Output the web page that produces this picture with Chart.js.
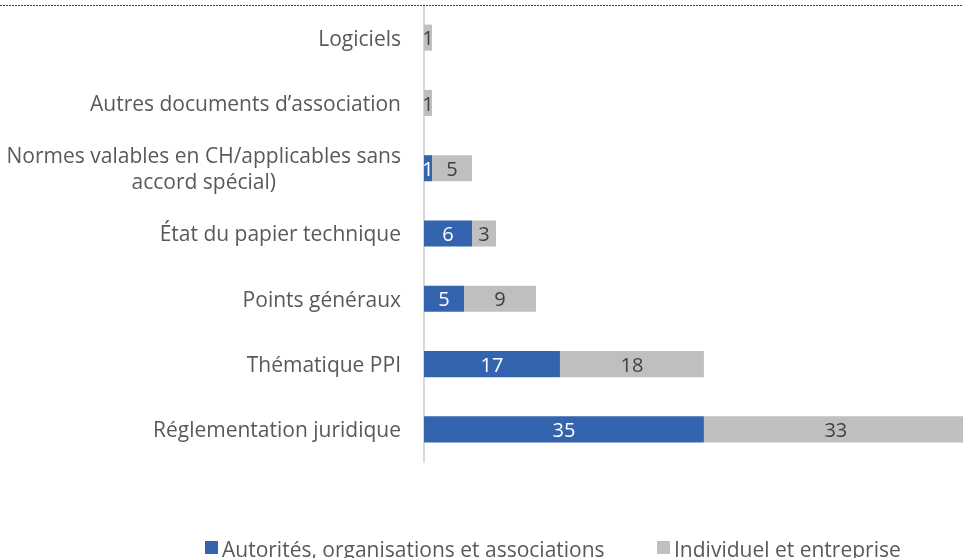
<!DOCTYPE html>
<html><head><meta charset="utf-8">
<script src="https://cdn.jsdelivr.net/npm/chart.js@4.4.1/dist/chart.umd.min.js"></script>
<style>html,body{margin:0;padding:0;background:#fff;}#wrap{width:963px;height:558px;position:relative;}</style>
</head><body><div id="wrap"><canvas id="c" width="963" height="558"></canvas></div>
<script>
const categories = [
  "Logiciels",
  "Autres documents d\u2019association",
  ["Normes valables en CH/applicables sans", "accord spécial)"],
  "État du papier technique",
  "Points généraux",
  "Thématique PPI",
  "Réglementation juridique"
];
const seriesNames = ["Autorités, organisations et associations", "Individuel et entreprise"];
const autorites = [0, 0, 1, 6, 5, 17, 35];
const individuel = [1, 1, 5, 3, 9, 18, 33];
const seriesColors = ["#3564AE", "#BFBFBF"];
const labelColors = ["#FFFFFF", "#404040"];

const FONT = "'Open Sans', Lato, sans-serif";

const overlay = {
  id: 'overlay',
  afterDraw(chart) {
    const ctx = chart.ctx;
    const ys = chart.scales.y;
    const ca = chart.chartArea;
    ctx.save();
    // top dotted border
    ctx.strokeStyle = '#404040';
    ctx.lineWidth = 1;
    ctx.setLineDash([2, 1]);
    ctx.beginPath(); ctx.moveTo(0, 5.5); ctx.lineTo(963, 5.5); ctx.stroke();
    ctx.setLineDash([]);
    // category labels
    ctx.font = '21px ' + FONT;
    ctx.fillStyle = '#595959';
    ctx.textAlign = 'center';
    ctx.textBaseline = 'middle';
    const right = ca.left - 23;
    categories.forEach((lab, i) => {
      const lines = Array.isArray(lab) ? lab : [lab];
      const y = ys.getPixelForValue(i) + 2;
      let mw = 0;
      lines.forEach(l => { mw = Math.max(mw, ctx.measureText(l).width); });
      const cx = right - mw / 2;
      const lh = 26;
      lines.forEach((l, k) => {
        ctx.fillText(l, cx, y - (lines.length - 1) * lh / 2 + k * lh);
      });
    });
    // data labels
    ctx.font = '20px ' + FONT;
    chart.data.datasets.forEach((ds, di) => {
      const meta = chart.getDatasetMeta(di);
      meta.data.forEach((bar, i) => {
        const v = ds.data[i];
        if (!v) return;
        ctx.fillStyle = labelColors[di];
        ctx.fillText(String(v), (bar.x + bar.base) / 2, bar.y + 2);
      });
    });
    // legend
    ctx.font = '21px ' + FONT;
    ctx.textAlign = 'left';
    ctx.textBaseline = 'alphabetic';
    const items = [{x: 205, name: seriesNames[0], c: seriesColors[0]}, {x: 657, name: seriesNames[1], c: seriesColors[1]}];
    items.forEach(it => {
      ctx.fillStyle = it.c;
      ctx.fillRect(it.x, 541, 13, 13);
      ctx.fillStyle = '#595959';
      ctx.fillText(it.name, it.x + 17, 557);
    });
    ctx.restore();
  }
};

new Chart(document.getElementById('c'), {
  type: 'bar',
  data: {
    labels: categories,
    datasets: [
      {label: seriesNames[0], data: autorites, backgroundColor: seriesColors[0], barPercentage: 0.4, categoryPercentage: 1},
      {label: seriesNames[1], data: individuel, backgroundColor: seriesColors[1], barPercentage: 0.4, categoryPercentage: 1}
    ]
  },
  options: {
    indexAxis: 'y',
    responsive: false,
    animation: false,
    layout: {padding: {left: 0, right: 0, top: 5, bottom: 96}},
    plugins: {legend: {display: false}, tooltip: {enabled: false}},
    scales: {
      x: {stacked: true, display: false, min: 0, max: 67.4},
      y: {
        stacked: true,
        grid: {display: false},
        border: {display: true, color: '#D9D9D9', width: 2},
        ticks: {display: false},
        afterFit(s) { s.width = 424; }
      }
    }
  },
  plugins: [overlay]
});
</script></body></html>
